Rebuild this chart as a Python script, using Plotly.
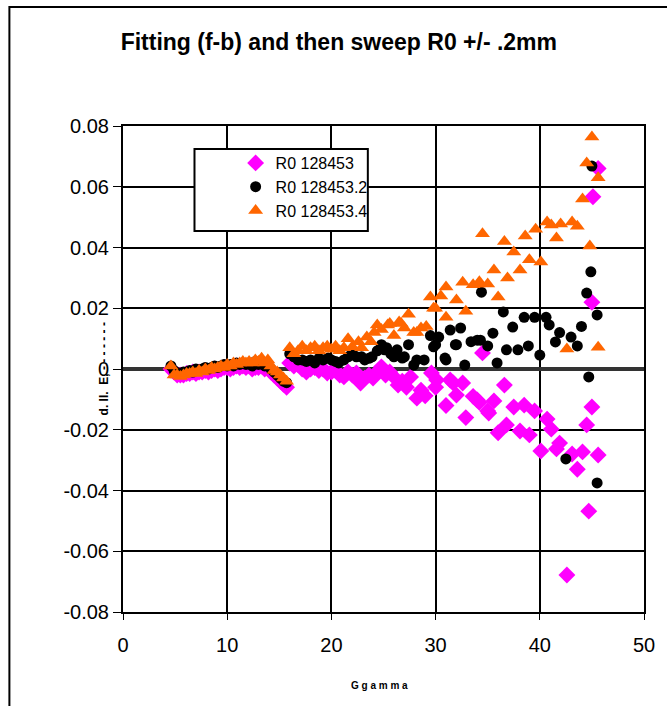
import plotly.graph_objects as go

# ---------------- data ----------------
mag_x = [4.6, 4.9, 5.2, 5.5, 5.8, 6.1, 6.4, 6.7, 7.0, 7.3, 7.6, 7.9, 8.2, 8.5, 8.8, 9.1, 9.4, 9.7,
         10.0, 10.3, 10.6, 10.9, 11.2, 11.5, 11.8, 12.1, 12.4, 12.7, 13.0, 13.3, 13.6, 13.9, 14.2,
         14.5, 14.8, 15.1, 15.4, 15.7,
         16.0, 16.4, 16.8, 17.2, 17.6, 18.0, 18.4, 18.8, 19.2, 19.6, 20.0, 20.4, 20.8, 21.2, 21.6,
         22.0, 22.4, 22.8, 23.2, 23.6, 24.0, 24.4, 24.8, 25.2, 25.6, 26.0, 26.4, 26.8, 27.2, 27.6,
         28.2, 28.6, 29.0, 29.6, 30.0, 30.1, 31.0, 31.4, 31.7, 32.0, 32.6, 32.9, 33.6, 34.0, 34.2,
         34.5, 35.0, 35.1, 35.6, 36.0, 36.6, 36.8, 37.5, 38.1, 38.5, 39.0, 39.5, 40.1, 40.7, 41.1,
         41.6, 41.9, 42.6, 43.1, 43.6, 44.1, 44.5, 44.7, 45.0, 45.0, 45.1, 45.6, 45.6]
mag_y = [0.000, -0.001, -0.002, -0.002, -0.002, -0.0015, -0.0015, -0.001, -0.0015, -0.001, -0.001,
         -0.0005, -0.001, -0.0005, 0.000, -0.0005, 0.000, 0.0005, 0.0005, 0.000, 0.0005, 0.001,
         0.0005, 0.001, 0.0005, 0.001, 0.000, 0.0005, 0.0005, 0.001, 0.000, 0.0005, -0.001, -0.002,
         -0.003, -0.004, -0.005, -0.006,
         0.002, 0.001, 0.0015, 0.000, -0.001, 0.000, 0.0005, -0.0005, 0.000, -0.0013, -0.001,
         -0.0005, -0.002, -0.0026, -0.001, -0.002, -0.0013, -0.0046, -0.003, -0.002, -0.003, -0.001,
         0.0007, -0.002, -0.001, -0.0026, -0.0053, -0.004, -0.006, -0.0026,
         -0.0096, -0.007, -0.0088, -0.0013, -0.006, -0.0036, -0.012, -0.0036, -0.0046, -0.0086,
         -0.0046, -0.016, -0.009, -0.0102, -0.011, 0.0053, -0.0138, -0.0145, -0.0105, -0.021,
         -0.0053, -0.0184, -0.0125, -0.0204, -0.0119, -0.0217, -0.0138, -0.027, -0.0165, -0.0198,
         -0.0263, -0.0244, -0.0678, -0.028, -0.033, -0.0273, -0.0184, -0.0468, -0.0125, 0.022,
         0.0567, 0.066, -0.0283]

blk_x = [4.6, 4.9, 5.2, 5.5, 5.8, 6.1, 6.4, 6.7, 7.0, 7.3, 7.6, 7.9, 8.2, 8.5, 8.8, 9.1, 9.4, 9.7,
         10.0, 10.3, 10.6, 10.9, 11.2, 11.5, 11.8, 12.1, 12.4, 12.7, 13.0, 13.3, 13.6, 13.9, 14.2,
         14.5, 14.8, 15.1, 15.4, 15.7,
         16.0, 16.4, 16.8, 17.2, 17.6, 18.0, 18.4, 18.8, 19.2, 19.7, 20.0, 20.4, 20.7, 21.2, 21.6,
         22.0, 22.4, 22.9, 23.2, 23.6, 23.9, 24.4, 24.8, 25.1, 25.3, 25.7, 26.0, 26.3, 26.8, 27.0,
         27.4, 27.9, 28.2, 28.9, 29.5, 29.8, 30.0, 30.3, 30.9, 31.0, 31.4, 31.9, 32.0, 32.4, 32.8,
         33.4, 34.0, 34.3, 34.4, 35.0, 35.5, 35.9, 36.5, 36.8, 37.4, 37.9, 38.5, 38.9, 39.5, 40.0,
         40.6, 40.9, 41.5, 41.9, 42.5, 43.0, 43.6, 44.0, 44.5, 44.7, 44.9, 45.0, 45.5, 45.5]
blk_y = [0.001, -0.0005, -0.0015, -0.0015, -0.001, -0.001, -0.0005, -0.001, 0.000, -0.0005, 0.000,
         0.0005, 0.000, 0.0005, 0.001, 0.0005, 0.001, 0.0015, 0.001, 0.0015, 0.001, 0.002, 0.0015,
         0.002, 0.0015, 0.002, 0.001, 0.0025, 0.0015, 0.002, 0.001, 0.0015, 0.000, -0.001, -0.002,
         -0.003, -0.004, -0.0045,
         0.005, 0.004, 0.003, 0.003, 0.0025, 0.003, 0.002, 0.0035, 0.003, 0.0036, 0.003, 0.0025,
         0.002, 0.003, 0.004, 0.0053, 0.004, 0.004, 0.003, 0.0035, 0.004, 0.006, 0.008, 0.0063,
         0.007, 0.005, 0.004, 0.0063, 0.0036, 0.004, 0.008, 0.0013, 0.003, 0.003, 0.011, 0.0073,
         0.008, 0.0105, 0.0036, 0.003, 0.0128, 0.008, 0.008, 0.0135, 0.0013, 0.009, 0.0095, 0.0095,
         0.0253, 0.0076, 0.0118, 0.002, 0.0188, 0.0063, 0.0138, 0.0063, 0.017, 0.0076, 0.017,
         0.0046, 0.017, 0.0145, 0.0089, 0.012, -0.0296, 0.0105, 0.0076, 0.014, 0.025, -0.0026,
         0.032, 0.0668, 0.0178, -0.0375]

org_x = [4.6, 4.9, 5.2, 5.5, 5.8, 6.1, 6.4, 6.7, 7.0, 7.3, 7.6, 7.9, 8.2, 8.5, 8.8, 9.1, 9.4, 9.7,
         10.0, 10.3, 10.6, 10.9, 11.2, 11.5, 11.8, 12.1, 12.4, 12.7, 13.0, 13.3, 13.6, 13.9, 14.2,
         14.5, 14.8, 15.1, 15.4, 15.7,
         16.0, 16.4, 16.8, 17.2, 17.6, 18.0, 18.4, 18.8, 19.2, 19.6, 20.0, 20.4, 20.8, 21.2, 21.6,
         22.0, 22.6, 22.9, 23.4, 23.8, 24.1, 24.4, 24.8, 25.4, 25.6, 26.0, 26.5, 26.7, 27.0, 27.4,
         27.9, 28.2, 28.6, 29.1, 29.5, 29.8, 30.0, 30.5, 31.0, 31.0, 32.0, 32.6, 32.9, 33.6, 34.1,
         34.2, 34.5, 35.0, 35.6, 36.0, 36.6, 36.9, 37.5, 38.1, 38.6, 39.0, 39.6, 40.1, 40.7, 41.1,
         41.6, 42.0, 42.6, 43.1, 43.6, 44.1, 44.5, 44.8, 45.0, 45.6, 45.6]
org_y = [0.001, -0.002, -0.002, -0.0025, -0.002, -0.0015, -0.0015, -0.001, -0.0015, -0.0005,
         -0.001, 0.000, -0.0005, 0.0005, 0.000, 0.0005, 0.001, 0.0005, 0.0015, 0.001, 0.002, 0.0015,
         0.002, 0.0025, 0.002, 0.0025, 0.002, 0.003, 0.0025, 0.0035, 0.002, 0.003, 0.001, -0.0005,
         -0.001, -0.002, -0.003, -0.004,
         0.007, 0.005, 0.006, 0.0075, 0.006, 0.007, 0.0075, 0.006, 0.007, 0.0075, 0.0065, 0.0075,
         0.006, 0.007, 0.010, 0.0073, 0.009, 0.007, 0.0105, 0.009, 0.012, 0.0145, 0.013, 0.0145,
         0.015, 0.011, 0.0155, 0.015, 0.0135, 0.018, 0.012, 0.012, 0.0135, 0.014, 0.0237, 0.020,
         0.020, 0.024, 0.027, 0.017, 0.0227, 0.0286, 0.019, 0.0277, 0.028, 0.0287, 0.0445, 0.028,
         0.0326, 0.0237, 0.042, 0.030, 0.0385, 0.0326, 0.0438, 0.036, 0.046, 0.0352, 0.0484,
         0.0474, 0.0431, 0.0477, 0.0066, 0.0484, 0.047, 0.056, 0.0678, 0.0405, 0.0764, 0.063,
         0.0072]

series_names = ["R0 128453", "R0 128453.2", "R0 128453.4"]
x_ticks = [0, 10, 20, 30, 40, 50]
y_ticks = [-0.08, -0.06, -0.04, -0.02, 0, 0.02, 0.04, 0.06, 0.08]
y_tick_text = ["-0.08", "-0.06", "-0.04", "-0.02", "0", "0.02", "0.04", "0.06", "0.08"]

FONT = "Liberation Sans, Arial, sans-serif"

# pixel -> paper helpers (plot area: x 123..655, y 126..612)
def px(xp):
    return (xp - 123) / 532

def py(yp):
    return (612 - yp) / 486

fig = go.Figure()
fig.add_trace(go.Scatter(x=mag_x, y=mag_y, mode="markers", name=series_names[0],
                         marker=dict(symbol="diamond", size=13, color="#FF00FF")))
fig.add_trace(go.Scatter(x=blk_x, y=blk_y, mode="markers", name=series_names[1],
                         marker=dict(symbol="circle", size=11, color="#000000")))
fig.add_trace(go.Scatter(x=org_x, y=org_y, mode="markers", name=series_names[2],
                         marker=dict(symbol="triangle-up", size=13, color="#FF6600")))

fig.update_layout(
    width=667, height=706,
    margin=dict(l=123, r=12, t=126, b=94),
    paper_bgcolor="white", plot_bgcolor="white",
    font=dict(family=FONT, size=17, color="black"),
    title=dict(text="<b>Fitting (f-b) and then sweep R0 +/- .2mm</b>",
               x=0.508, xanchor="center", y=0.94, yanchor="middle",
               font=dict(family=FONT, size=23, color="black")),
    showlegend=True,
    legend=dict(x=px(238), y=py(146), xanchor="left", yanchor="top",
                bgcolor="rgba(0,0,0,0)", borderwidth=0,
                font=dict(family=FONT, size=16, color="black"),
                itemwidth=30, tracegroupgap=0),
    xaxis=dict(range=[0, 50], tickvals=x_ticks, showgrid=True, gridcolor="black", gridwidth=2,
               zeroline=False, showline=True, linecolor="black", linewidth=2, mirror=True,
               ticks="outside", ticklen=6, tickcolor="black", tickwidth=1,
               ticklabelstandoff=8,
               tickfont=dict(family=FONT, size=20)),
    yaxis=dict(range=[-0.08, 0.08], tickvals=y_ticks, ticktext=y_tick_text, showgrid=True,
               gridcolor="black", gridwidth=2, zeroline=True, zerolinecolor="#333333",
               zerolinewidth=4, showline=True, linecolor="black", linewidth=2, mirror=True,
               ticks="outside", ticklen=8, tickcolor="black", tickwidth=1,
               tickfont=dict(family=FONT, size=20)),
)

# legend box (drawn as a shape so the symbol/text spacing can match the reference)
fig.add_shape(type="rect", xref="paper", yref="paper",
              x0=px(196), x1=px(373), y0=py(231), y1=py(149),
              line=dict(color="black", width=2), fillcolor="white", layer="above")

# axis titles (small, as in the reference)
fig.add_annotation(text="<b>G g a m m a</b>", xref="paper", yref="paper",
                   x=px(385), y=py(685), xanchor="center", yanchor="middle", showarrow=False,
                   font=dict(family=FONT, size=10, color="black"))
fig.add_annotation(text="<b>d. ll.  E, - - - - - - -</b>", xref="paper", yref="paper",
                   x=px(104), y=py(369), xanchor="center", yanchor="middle",
                   showarrow=False, textangle=-90,
                   font=dict(family=FONT, size=12, color="black"))

# outer chart border (extends past the right and bottom edges, as in the reference)
fig.add_shape(type="rect", xref="paper", yref="paper",
              x0=px(7), x1=px(680), y0=py(720), y1=py(7),
              line=dict(color="black", width=2), fillcolor="rgba(0,0,0,0)", layer="below")

fig.write_html("out.html")
